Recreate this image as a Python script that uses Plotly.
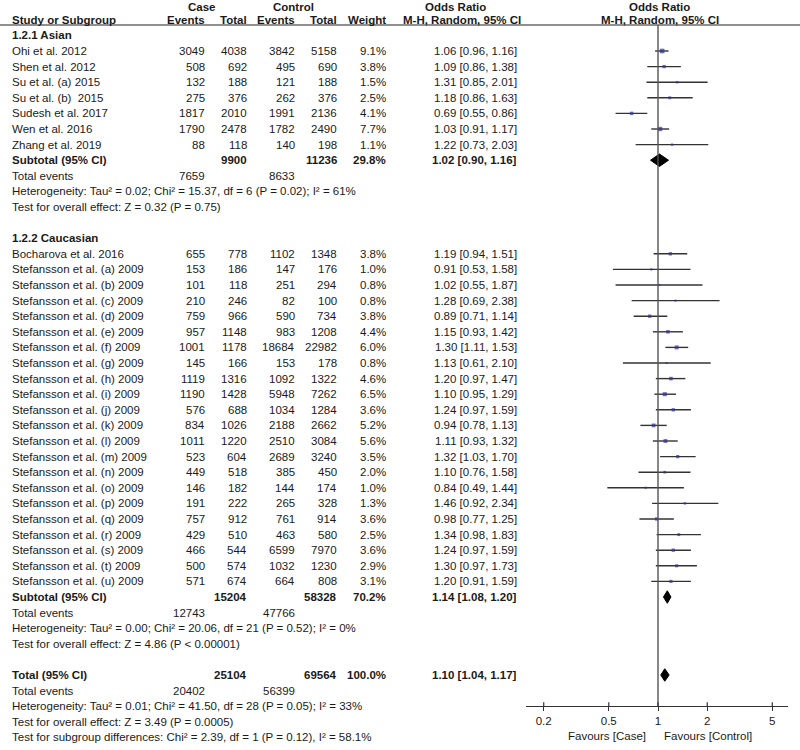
import plotly.graph_objects as go

# ---------------- data ----------------
asian_studies = ["Ohi et al. 2012", "Shen et al. 2012", "Su et al. (a) 2015", "Su et al. (b)  2015",
                 "Sudesh et al. 2017", "Wen et al. 2016", "Zhang et al. 2019"]
asian_case_events = [3049, 508, 132, 275, 1817, 1790, 88]
asian_case_total = [4038, 692, 188, 376, 2010, 2478, 118]
asian_ctrl_events = [3842, 495, 121, 262, 1991, 1782, 140]
asian_ctrl_total = [5158, 690, 188, 376, 2136, 2490, 198]
asian_weight = [9.1, 3.8, 1.5, 2.5, 4.1, 7.7, 1.1]
asian_or = [1.06, 1.09, 1.31, 1.18, 0.69, 1.03, 1.22]
asian_lo = [0.96, 0.86, 0.85, 0.86, 0.55, 0.91, 0.73]
asian_hi = [1.16, 1.38, 2.01, 1.63, 0.86, 1.17, 2.03]

cauc_studies = ["Bocharova et al. 2016"] + ["Stefansson et al. (%s) 2009" % c for c in "abcdefghijklmnopqrstu"]
cauc_case_events = [655, 153, 101, 210, 759, 957, 1001, 145, 1119, 1190, 576, 834, 1011, 523, 449, 146, 191, 757, 429, 466, 500, 571]
cauc_case_total = [778, 186, 118, 246, 966, 1148, 1178, 166, 1316, 1428, 688, 1026, 1220, 604, 518, 182, 222, 912, 510, 544, 574, 674]
cauc_ctrl_events = [1102, 147, 251, 82, 590, 983, 18684, 153, 1092, 5948, 1034, 2188, 2510, 2689, 385, 144, 265, 761, 463, 6599, 1032, 664]
cauc_ctrl_total = [1348, 176, 294, 100, 734, 1208, 22982, 178, 1322, 7262, 1284, 2662, 3084, 3240, 450, 174, 328, 914, 580, 7970, 1230, 808]
cauc_weight = [3.8, 1.0, 0.8, 0.8, 3.8, 4.4, 6.0, 0.8, 4.6, 6.5, 3.6, 5.2, 5.6, 3.5, 2.0, 1.0, 1.3, 3.6, 2.5, 3.6, 2.9, 3.1]
cauc_or = [1.19, 0.91, 1.02, 1.28, 0.89, 1.15, 1.30, 1.13, 1.20, 1.10, 1.24, 0.94, 1.11, 1.32, 1.10, 0.84, 1.46, 0.98, 1.34, 1.24, 1.30, 1.20]
cauc_lo = [0.94, 0.53, 0.55, 0.69, 0.71, 0.93, 1.11, 0.61, 0.97, 0.95, 0.97, 0.78, 0.93, 1.03, 0.76, 0.49, 0.92, 0.77, 0.98, 0.97, 0.97, 0.91]
cauc_hi = [1.51, 1.58, 1.87, 2.38, 1.14, 1.42, 1.53, 2.10, 1.47, 1.29, 1.59, 1.13, 1.32, 1.70, 1.58, 1.44, 2.34, 1.25, 1.83, 1.59, 1.73, 1.59]

sub_labels = ["Subtotal (95% CI)", "Subtotal (95% CI)", "Total (95% CI)"]
sub_case_total = [9900, 15204, 25104]
sub_ctrl_total = [11236, 58328, 69564]
sub_weight = [29.8, 70.2, 100.0]
sub_or = [1.02, 1.14, 1.10]
sub_lo = [0.90, 1.08, 1.04]
sub_hi = [1.16, 1.20, 1.17]
sub_case_events = [7659, 12743, 20402]
sub_ctrl_events = [8633, 47766, 56399]
sub_het = ["Heterogeneity: Tau² = 0.02; Chi² = 15.37, df = 6 (P = 0.02); I² = 61%",
           "Heterogeneity: Tau² = 0.00; Chi² = 20.06, df = 21 (P = 0.52); I² = 0%",
           "Heterogeneity: Tau² = 0.01; Chi² = 41.50, df = 28 (P = 0.05); I² = 33%"]
sub_test = ["Test for overall effect: Z = 0.32 (P = 0.75)",
            "Test for overall effect: Z = 4.86 (P < 0.00001)",
            "Test for overall effect: Z = 3.49 (P = 0.0005)"]
subgroup_diff = "Test for subgroup differences: Chi² = 2.39, df = 1 (P = 0.12), I² = 58.1%"
group_names = ["1.2.1 Asian", "1.2.2 Caucasian"]

tick_vals = [0.2, 0.5, 1, 2, 5]
tick_text = ["0.2", "0.5", "1", "2", "5"]

# ---------------- layout helpers ----------------
W, H = 800, 750
ROW0, ROWH = 51.0, 15.6
FONT = "Liberation Sans, Arial, sans-serif"
FS = 11.5
TXT = "#1a1a1a"

annotations = []


def txt(px, row, s, anchor="left", bold=False):
    annotations.append(dict(x=px / W, xref="paper", y=row, yref="y", text=("<b>%s</b>" % s) if bold else s,
                            showarrow=False, xanchor=anchor, yanchor="middle",
                            font=dict(family=FONT, size=FS, color=TXT), borderpad=0))


X_NAME, X_CE, X_CT, X_KE, X_KT, X_W, X_OR = 11, 206, 248, 296, 338, 387, 518
HDR1 = -2.82

# header
txt(202, HDR1, "Case", "center", True)
txt(293, HDR1, "Control", "center", True)
txt(456, HDR1, "Odds Ratio", "center", True)
txt(659, HDR1, "Odds Ratio", "center", True)
txt(X_NAME, -2, "Study or Subgroup", "left", True)
txt(X_CE, -2, "Events", "right", True)
txt(X_CT, -2, "Total", "right", True)
txt(X_KE, -2, "Events", "right", True)
txt(X_KT, -2, "Total", "right", True)
txt(X_W, -2, "Weight", "right", True)
txt(462, -2, "M-H, Random, 95% CI", "center", True)
txt(660, -2, "M-H, Random, 95% CI", "center", True)

ci_x, ci_y, sq_x, sq_y, sq_s = [], [], [], [], []
diamonds = []


def fmt_or(o, l, h):
    return "%.2f [%.2f, %.2f]" % (o, l, h)


def study_block(start, names, ce, ct, ke, kt, w, o, lo, hi):
    for k in range(len(names)):
        r = start + k
        txt(X_NAME, r, names[k])
        txt(X_CE, r, str(ce[k]), "right")
        txt(X_CT, r, str(ct[k]), "right")
        txt(X_KE, r, str(ke[k]), "right")
        txt(X_KT, r, str(kt[k]), "right")
        txt(X_W, r, "%.1f%%" % w[k], "right")
        txt(X_OR, r, fmt_or(o[k], lo[k], hi[k]), "right")
        ci_x.extend([lo[k], hi[k], None])
        ci_y.extend([r, r, None])
        sq_x.append(o[k])
        sq_y.append(r)
        sq_s.append(1.0 + 1.2 * w[k] ** 0.5)
    return start + len(names)


def summary_block(r, g, extra_test=None):
    txt(X_NAME, r, sub_labels[g], "left", True)
    txt(X_CT, r, str(sub_case_total[g]), "right", True)
    txt(X_KT, r, str(sub_ctrl_total[g]), "right", True)
    txt(X_W, r, "%.1f%%" % sub_weight[g], "right", True)
    txt(X_OR, r, fmt_or(sub_or[g], sub_lo[g], sub_hi[g]), "right", True)
    diamonds.append((r, sub_or[g], sub_lo[g], sub_hi[g]))
    txt(X_NAME, r + 1, "Total events")
    txt(X_CE, r + 1, str(sub_case_events[g]), "right")
    txt(X_KE, r + 1, str(sub_ctrl_events[g]), "right")
    txt(X_NAME, r + 2, sub_het[g])
    txt(X_NAME, r + 3, sub_test[g])
    if extra_test:
        txt(X_NAME, r + 4, extra_test)


row = -1
txt(X_NAME, row, group_names[0], "left", True)
row = study_block(0, asian_studies, asian_case_events, asian_case_total, asian_ctrl_events,
                  asian_ctrl_total, asian_weight, asian_or, asian_lo, asian_hi)
summary_block(row, 0)
row += 5
txt(X_NAME, row, group_names[1], "left", True)
row = study_block(row + 1, cauc_studies, cauc_case_events, cauc_case_total, cauc_ctrl_events,
                  cauc_ctrl_total, cauc_weight, cauc_or, cauc_lo, cauc_hi)
summary_block(row, 1)
row += 5
summary_block(row, 2, subgroup_diff)
axis_row = row + 2
fav_row = row + 4

txt(647, fav_row - 0.1, "Favours [Case]", "right")
txt(663, fav_row - 0.1, "Favours [Control]", "left")

fig = go.Figure()
fig.add_trace(go.Scatter(x=ci_x, y=ci_y, mode="lines", line=dict(color="#333333", width=1.4),
                         hoverinfo="skip", showlegend=False))
fig.add_trace(go.Scatter(x=sq_x, y=sq_y, mode="markers",
                         marker=dict(symbol="square", size=sq_s, color="#2E3192", line=dict(width=0)),
                         showlegend=False))
for (r, o, l, h) in diamonds:
    hh = 0.4
    fig.add_trace(go.Scatter(x=[l, o, h, o, l], y=[r, r - hh, r, r + hh, r], mode="lines", fill="toself",
                             fillcolor="black", line=dict(color="black", width=1), showlegend=False,
                             hoverinfo="skip"))

y_top = (0 - ROW0) / ROWH
y_bot = (H - ROW0) / ROWH
hdr_row = (25.0 - ROW0) / ROWH

px_per_dec = 163.5
x1_px = 658.0
lo_log = -(x1_px - 526) / px_per_dec
hi_log = (788 - x1_px) / px_per_dec

shapes = [
    dict(type="line", xref="paper", x0=0, x1=1, yref="y", y0=hdr_row, y1=hdr_row,
         line=dict(color="#222222", width=1.2)),
    dict(type="line", xref="x", x0=1, x1=1, yref="y", y0=hdr_row, y1=axis_row,
         line=dict(color="#555555", width=1.4)),
]
# upper half of the tick marks (ticks cross the axis line in the reference)
for tv in tick_vals:
    shapes.append(dict(type="line", xref="x", x0=tv, x1=tv, yref="y", y0=axis_row - 0.25, y1=axis_row,
                       line=dict(color="#333333", width=1.2)))

fig.update_layout(
    width=W, height=H, margin=dict(l=0, r=0, t=0, b=0, autoexpand=False),
    paper_bgcolor="white", plot_bgcolor="white",
    showlegend=False,
    annotations=annotations,
    xaxis=dict(type="log", range=[lo_log, hi_log], domain=[526 / W, 788 / W], anchor="free",
               position=1 - (ROW0 + ROWH * axis_row) / H,
               showline=True, linecolor="#333333", linewidth=1.2, ticks="outside", ticklen=4,
               tickcolor="#333333", tickwidth=1.2, tickvals=tick_vals, ticktext=tick_text,
               tickfont=dict(family=FONT, size=FS, color=TXT), showgrid=False, zeroline=False,
               automargin=False),
    yaxis=dict(range=[y_bot, y_top], domain=[0, 1], visible=False, showgrid=False, zeroline=False,
               automargin=False),
    shapes=shapes,
)

fig.write_html("out.html", config={"displayModeBar": False},
               post_script="document.body.style.margin='0';document.body.style.overflow='hidden';")
